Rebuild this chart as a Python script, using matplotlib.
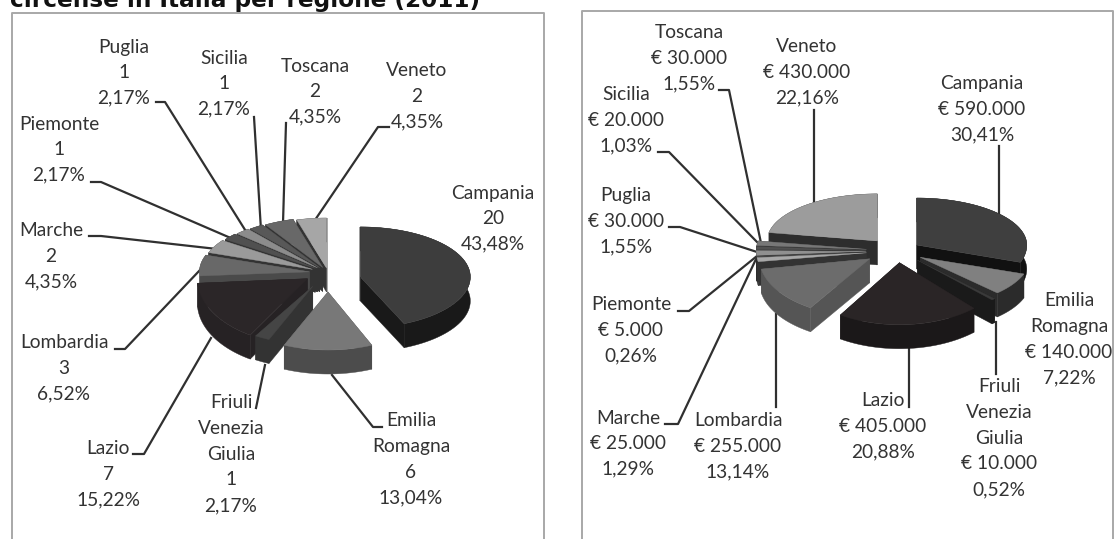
import numpy as np
import matplotlib
matplotlib.use('Agg')
import matplotlib.pyplot as plt

plt.rcParams['font.family'] = ['Lato', 'DejaVu Sans']

# Dati
regioni = ['Campania', 'Emilia\nRomagna', 'Friuli\nVenezia\nGiulia', 'Lazio', 'Lombardia',
           'Marche', 'Piemonte', 'Puglia', 'Sicilia', 'Toscana', 'Veneto']
numero = [20, 6, 1, 7, 3, 2, 1, 1, 1, 2, 2]
numero_pct = ['43,48%', '13,04%', '2,17%', '15,22%', '6,52%', '4,35%',
              '2,17%', '2,17%', '2,17%', '4,35%', '4,35%']
euro = [590000, 140000, 10000, 405000, 255000, 25000, 5000, 30000, 20000, 30000, 430000]
euro_label = ['€ 590.000', '€ 140.000', '€ 10.000', '€ 405.000', '€ 255.000', '€ 25.000',
              '€ 5.000', '€ 30.000', '€ 20.000', '€ 30.000', '€ 430.000']
euro_pct = ['30,41%', '7,22%', '0,52%', '20,88%', '13,14%', '1,29%',
            '0,26%', '1,55%', '1,03%', '1,55%', '22,16%']

# Stile delle fette
explode_sx = [.30, .38, .30, .22, .17, .16, .15, .14, .13, .12, .10]
explode_dx = [.22, .25, .27, .25, .30, .28, .28, .28, .28, .28, .28]
# raggio verticale verso il basso (la prospettiva ingrandisce il davanti)
fronte_sx = [51, 58, 58, 66, 60, 50, 50, 50, 50, 50, 50]
fronte_dx = [52, 50, 54, 62, 58, 50, 50, 50, 50, 50, 50]
# Campania a sinistra sta piu in basso
spost_sx = [7, 0, 0, 0, 0, 0, 0, 0, 0, 0, 0]
spost_dx = [0] * 11
top_sx = ['#3d3d3d', '#787878', '#454545', '#2b2628', '#686868', '#9a9a9a',
          '#505050', '#8c8c8c', '#585858', '#686868', '#a6a6a6']
side_sx = ['#191919', '#4c4c4c', '#333333', '#262224', '#4a4a4a', '#333333',
           '#333333', '#333333', '#333333', '#333333', '#333333']
top_dx = ['#3f3f3f', '#808080', '#3a3a3a', '#2a2526', '#6c6c6c', '#a8a8a8',
          '#4a4a4a', '#909090', '#505050', '#777777', '#9c9c9c']
side_dx = ['#111111', '#2b2b2b', '#1a1a1a', '#1b1819', '#555555', '#333333',
           '#2a2a2a', '#333333', '#2a2a2a', '#333333', '#2d2d2d']

# Posizione etichette (x, y della prima riga) e linee guida, in pixel
pos_sx = [(493, 193), (411, 421), (231, 403), (108, 449), (64, 343), (51, 231),
          (59, 124), (124, 47), (224, 58), (315, 66), (417, 71)]
guide_sx = [None,
            [(382, 427), (373, 427), (332, 375)],
            [(256, 408), (265, 365)],
            [(133, 454), (144, 454), (211, 338)],
            [(115, 349), (125, 349), (200, 270)],
            [(89, 236), (101, 236), (217, 249)],
            [(91, 182), (101, 182), (233, 239)],
            [(156, 102), (165, 102), (247, 233)],
            [(254, 117), (261, 230)],
            [(286, 123), (283, 223)],
            [(389, 127), (378, 127), (315, 220)]]
pos_dx = [(982, 84), (1069, 301), (999, 387), (883, 401), (738, 421), (628, 418),
          (631, 305), (626, 196), (626, 95), (689, 33), (807, 47)]
guide_dx = [[(999, 146), (999, 213)],
            None,
            [(996, 374), (996, 322)],
            [(909, 407), (909, 347)],
            [(776, 407), (776, 314)],
            [(665, 424), (678, 424), (757, 257)],
            [(678, 311), (689, 311), (757, 256)],
            [(669, 227), (680, 227), (757, 252)],
            [(658, 152), (669, 152), (758, 243)],
            [(719, 90), (729, 90), (761, 243)],
            [(814, 110), (814, 204)]]


def torta_3d(ax, valori, cx, cy, explode, fronte, spost, top, side, rx=110, retro=50, depth=24):
    # torta esplosa in prospettiva, senso orario da ore 12
    valori = np.array(valori, dtype=float)
    ang = np.concatenate([[0], np.cumsum(valori) / valori.sum() * 2 * np.pi])
    mid = (ang[:-1] + ang[1:]) / 2
    for i in np.argsort(-np.cos(mid)):
        ax0 = cx + explode[i] * rx * np.sin(mid[i])
        ay0 = cy - explode[i] * retro * np.cos(mid[i]) + spost[i]
        t = np.linspace(ang[i], ang[i + 1], 60)
        x = ax0 + rx * np.sin(t)
        y = ay0 - np.where(np.cos(t) > 0, retro, fronte[i]) * np.cos(t)
        for k in (0, -1):
            ax.fill([ax0, x[k], x[k], ax0], [ay0, y[k], y[k] + depth, ay0 + depth],
                    color=side[i], lw=0.3, zorder=3)
        ax.fill(np.r_[x, x[::-1]], np.r_[y, y[::-1] + depth], color=side[i], lw=0.3, zorder=3)
        ax.fill(np.r_[ax0, x], np.r_[ay0, y], color=top[i], lw=0.3, zorder=3)


def etichette(ax, nomi, seconda, terza, pos, guide):
    for n, s, p3, (x, y), g in zip(nomi, seconda, terza, pos, guide):
        righe = n.split('\n') + [str(s), p3]
        for j, r in enumerate(righe):
            ax.text(x, y + j * 25.6, r, ha='center', va='center', fontsize=13.8, color='#333333', zorder=5)
        if g:
            gx, gy = zip(*g)
            ax.plot(gx, gy, color='#303030', lw=1.6, zorder=2, solid_joinstyle='round')


fig = plt.figure(figsize=(11.14, 5.39), dpi=100)
ax = fig.add_axes([0, 0, 1, 1])
ax.set_xlim(0, 1114)
ax.set_ylim(539, 0)
ax.axis('off')

# cornici
ax.plot([12, 12, 544, 544], [539, 13, 13, 539], color='#a8a8a8', lw=1.4)
ax.plot([582, 582, 1113, 1113], [539, 11, 11, 539], color='#a8a8a8', lw=1.4)

ax.text(10, 7, 'circense in Italia per regione (2011)', fontsize=16.7, fontweight='bold',
        family=['DejaVu Sans'], color='#111111', va='baseline', ha='left')

torta_3d(ax, numero, 328, 273, explode_sx, fronte_sx, spost_sx, top_sx, side_sx)
etichette(ax, regioni, numero, numero_pct, pos_sx, guide_sx)

torta_3d(ax, euro, 897, 251, explode_dx, fronte_dx, spost_dx, top_dx, side_dx, retro=47)
etichette(ax, regioni, euro_label, euro_pct, pos_dx, guide_dx)

fig.savefig('out.png', dpi=100)
